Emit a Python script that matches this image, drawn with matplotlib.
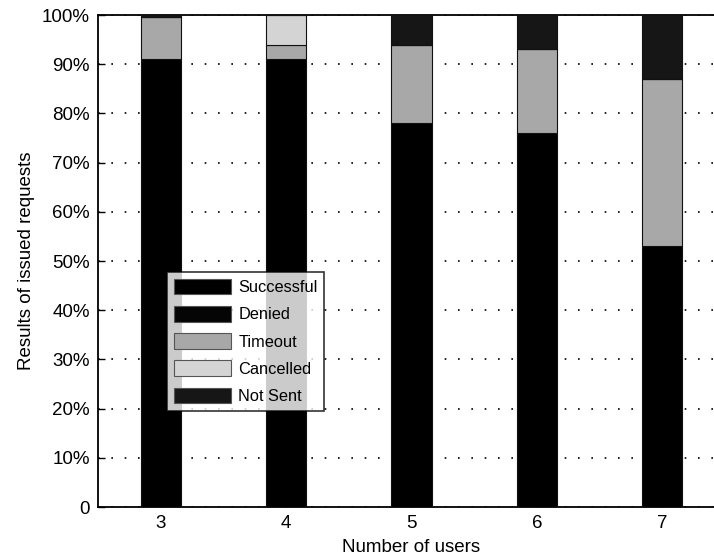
import matplotlib
matplotlib.use("Agg")
import matplotlib.pyplot as plt
import numpy as np
from matplotlib.ticker import FuncFormatter

plt.rcParams["font.family"] = ["Liberation Sans", "DejaVu Sans"]

users = [3, 4, 5, 6, 7]
successful = [91, 91, 78, 76, 53]
denied = [0, 0, 0, 0, 0]
timeout = [8.5, 3, 16, 17, 34]
cancelled = [0, 6, 0, 0, 0]
not_sent = [0.5, 0, 6, 7, 13]

series = [
    ("Successful", successful, "#000000"),
    ("Denied", denied, "#050505"),
    ("Timeout", timeout, "#a8a8a8"),
    ("Cancelled", cancelled, "#d4d4d4"),
    ("Not Sent", not_sent, "#161616"),
]

fig = plt.figure(figsize=(7.14, 5.58), dpi=100)
ax = fig.add_axes([98 / 714, 51 / 558, 627 / 714, 492 / 558])

# stacked bars, one segment per request outcome
bottom = np.zeros(len(users))
for name, vals, color in series:
    vals = np.array(vals, dtype=float)
    ax.bar(users, vals, width=0.32, bottom=bottom, color=color,
           edgecolor="#111111", linewidth=0.8, label=name, zorder=3)
    bottom += vals

ax.set_xlim(2.5, 7.5)
ax.set_ylim(0, 100)
ax.set_xticks(users)
ax.set_yticks(range(0, 101, 10))
ax.yaxis.set_major_formatter(FuncFormatter(lambda v, p: "0" if v == 0 else f"{int(v)}%"))
ax.tick_params(direction="in", length=5, labelsize=13.5, width=1, pad=6)
ax.yaxis.grid(True, color="black", linestyle=(0, (1, 7)), linewidth=1.2, zorder=1)
for s in ax.spines.values():
    s.set_linewidth(1.3)

ax.set_xlabel("Number of users", fontsize=13.5, labelpad=5)
ax.set_ylabel("Results of issued requests", fontsize=13.5, labelpad=5)

leg = ax.legend(loc="upper left", bbox_to_anchor=(167 / 714, 1 - 272 / 558),
                bbox_transform=fig.transFigure, fontsize=11.8, frameon=True,
                fancybox=False, edgecolor="black", handlelength=3.5,
                handleheight=1.1, labelspacing=0.66, borderpad=0.4,
                handletextpad=0.45, borderaxespad=0)
leg.get_frame().set_linewidth(1.2)
for h in leg.legend_handles:
    h.set_edgecolor("#555555")

fig.savefig("out.png", dpi=100)
